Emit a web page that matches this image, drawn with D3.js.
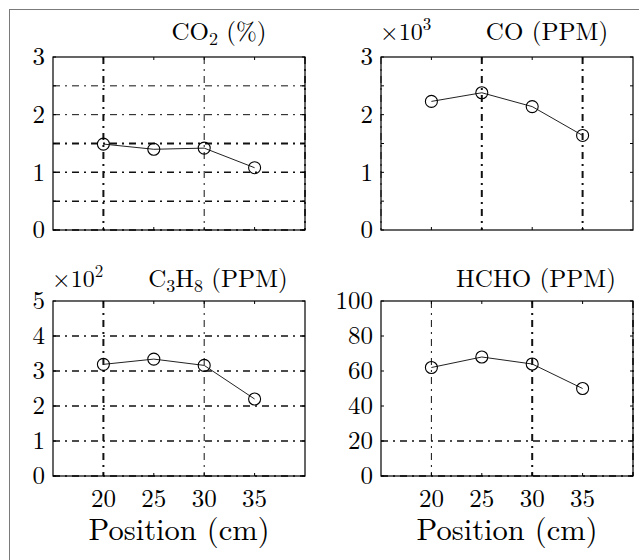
<!DOCTYPE html>
<html><head><meta charset="utf-8">
<script src="https://cdn.jsdelivr.net/npm/d3@7"></script>
<style>body{margin:0;background:#fff}svg{display:block}</style>
</head><body>
<svg id="c" width="639" height="560"></svg>
<script>
// ---- data ----
const positions = [20, 25, 30, 35];
const xTicks = [20, 25, 30, 35];
const co2 = [1.49, 1.40, 1.42, 1.08];        // %
const co = [2230, 2380, 2140, 1640];         // PPM
const c3h8 = [319, 334, 316, 220];           // PPM
const hcho = [62, 68, 64, 50];               // PPM
const co2Ticks = [0, 1, 2, 3];
const coTicks = [0, 1000, 2000, 3000];
const c3h8Ticks = [0, 100, 200, 300, 400, 500];
const hchoTicks = [0, 20, 40, 60, 80, 100];

const FONT = '"Latin Modern Roman"';
const svg = d3.select("#c");

// outer frame
svg.append("rect").attr("x", 9.5).attr("y", 9.5).attr("width", 700).attr("height", 700)
  .attr("fill", "none").attr("stroke", "#7a7a7a").attr("stroke-width", 1);

const panels = [
  {vals: co2, dom: [0, 3], ticks: co2Ticks, minor: 0.5, fmt: d => d, x0: 53, x1: 305, y0: 57, y1: 230,
   title: [["CO", 0], ["2", 1], [" (%)", 0]], tcx: 219, ty: 40, exp: null, xlabels: false,
   gridY: [[0.5, 1.5], [1, 1.5], [1.5, 2], [2, 1], [2.5, 1], [0, 1.5]], gridX: [[20, 2], [30, 1], [40, 1.5]]},
  {vals: co, dom: [0, 3000], ticks: coTicks, minor: 500, fmt: d => d / 1000, x0: 381, x1: 633, y0: 57, y1: 230,
   title: [["CO (PPM)", 0]], tcx: 547, ty: 40, exp: "3", xlabels: false,
   gridY: [], gridX: [[25, 2], [35, 2], [15, 1]]},
  {vals: c3h8, dom: [0, 500], ticks: c3h8Ticks, minor: 100, fmt: d => d / 100, x0: 53, x1: 305, y0: 301, y1: 476,
   title: [["C", 0], ["3", 1], ["H", 0], ["8", 1], [" (PPM)", 0]], tcx: 218, ty: 287, exp: "2", xlabels: true,
   gridY: [[100, 1.5], [200, 1.5], [300, 1.5], [400, 1.5], [0, 1.5]], gridX: [[20, 2], [30, 1]]},
  {vals: hcho, dom: [0, 100], ticks: hchoTicks, minor: 20, fmt: d => d, x0: 381, x1: 633, y0: 301, y1: 476,
   title: [["HCHO (PPM)", 0]], tcx: 536, ty: 287, exp: null, xlabels: true,
   gridY: [[20, 1.5], [0, 1.5]], gridX: [[20, 1], [30, 2], [40, 1.5]]}
];

function txt(sel) { return sel.append("text").style("font-family", FONT).attr("fill", "#000"); }

panels.forEach(p => {
  const x = d3.scaleLinear().domain([15, 40]).range([p.x0, p.x1]);
  const y = d3.scaleLinear().domain(p.dom).range([p.y1, p.y0]);
  const g = svg.append("g");

  // grid
  p.gridY.forEach(([v, w]) => {
    g.append("line").attr("x1", p.x0).attr("x2", p.x1).attr("y1", y(v)).attr("y2", y(v))
      .attr("stroke", "#111").attr("stroke-width", w).attr("stroke-dasharray", "7,5,2,5");
  });
  p.gridX.forEach(([v, w]) => {
    g.append("line").attr("y1", p.y0).attr("y2", p.y1).attr("x1", x(v)).attr("x2", x(v))
      .attr("stroke", "#111").attr("stroke-width", w).attr("stroke-dasharray", "7,5,2,5");
  });

  // ticks (inward, all four sides)
  const yMinor = d3.range(p.dom[0], p.dom[1] + p.minor / 2, p.minor);
  yMinor.forEach(v => {
    g.append("line").attr("x1", p.x0).attr("x2", p.x0 + 3).attr("y1", y(v)).attr("y2", y(v)).attr("stroke", "#000");
    g.append("line").attr("x1", p.x1).attr("x2", p.x1 - 3).attr("y1", y(v)).attr("y2", y(v)).attr("stroke", "#000");
  });
  xTicks.forEach(v => {
    g.append("line").attr("x1", x(v)).attr("x2", x(v)).attr("y1", p.y1).attr("y2", p.y1 - 3).attr("stroke", "#000");
    g.append("line").attr("x1", x(v)).attr("x2", x(v)).attr("y1", p.y0).attr("y2", p.y0 + 3).attr("stroke", "#000");
  });

  // box
  g.append("rect").attr("x", p.x0).attr("y", p.y0).attr("width", p.x1 - p.x0).attr("height", p.y1 - p.y0)
    .attr("fill", "none").attr("stroke", "#000").attr("stroke-width", 1.2);

  // y labels
  p.ticks.forEach(v => {
    txt(g).attr("x", p.x0 - 8).attr("y", y(v)).attr("dy", "0.33em")
      .attr("text-anchor", "end").attr("font-size", 25).text(p.fmt(v));
  });

  // x labels
  if (p.xlabels) {
    xTicks.forEach(v => {
      txt(g).attr("x", x(v)).attr("y", 507).attr("text-anchor", "middle")
        .attr("font-size", 25).text(v);
    });
    txt(g).attr("x", (p.x0 + p.x1) / 2).attr("y", 540).attr("text-anchor", "middle")
      .attr("font-size", 30.5).text("Position (cm)");
  }

  // title
  const t = txt(g).attr("x", p.tcx).attr("y", p.ty).attr("text-anchor", "middle")
    .attr("font-size", 25);
  let prevSub = false;
  p.title.forEach(([s, sub]) => {
    const ts = t.append("tspan").text(s);
    if (sub) ts.attr("font-size", 18);
    ts.attr("dy", sub ? (prevSub ? 0 : 5) : (prevSub ? -5 : 0));
    prevSub = !!sub;
  });

  // exponent
  if (p.exp) {
    const e = txt(g).attr("x", p.x0 - 1).attr("y", p.ty).attr("font-size", 24);
    e.append("tspan").text("×10");
    e.append("tspan").attr("font-size", 17).attr("dy", -10).text(p.exp);
  }

  // line + markers
  const pts = positions.map((pos, i) => [pos, p.vals[i]]);
  g.append("path").datum(pts)
    .attr("d", d3.line().x(d => x(d[0])).y(d => y(d[1])))
    .attr("fill", "none").attr("stroke", "#222").attr("stroke-width", 1);
  g.selectAll("circle.m").data(pts).enter().append("circle")
    .attr("cx", d => x(d[0])).attr("cy", d => y(d[1])).attr("r", 6)
    .attr("fill", "none").attr("stroke", "#000").attr("stroke-width", 1.1);
});
</script>
</body></html>
